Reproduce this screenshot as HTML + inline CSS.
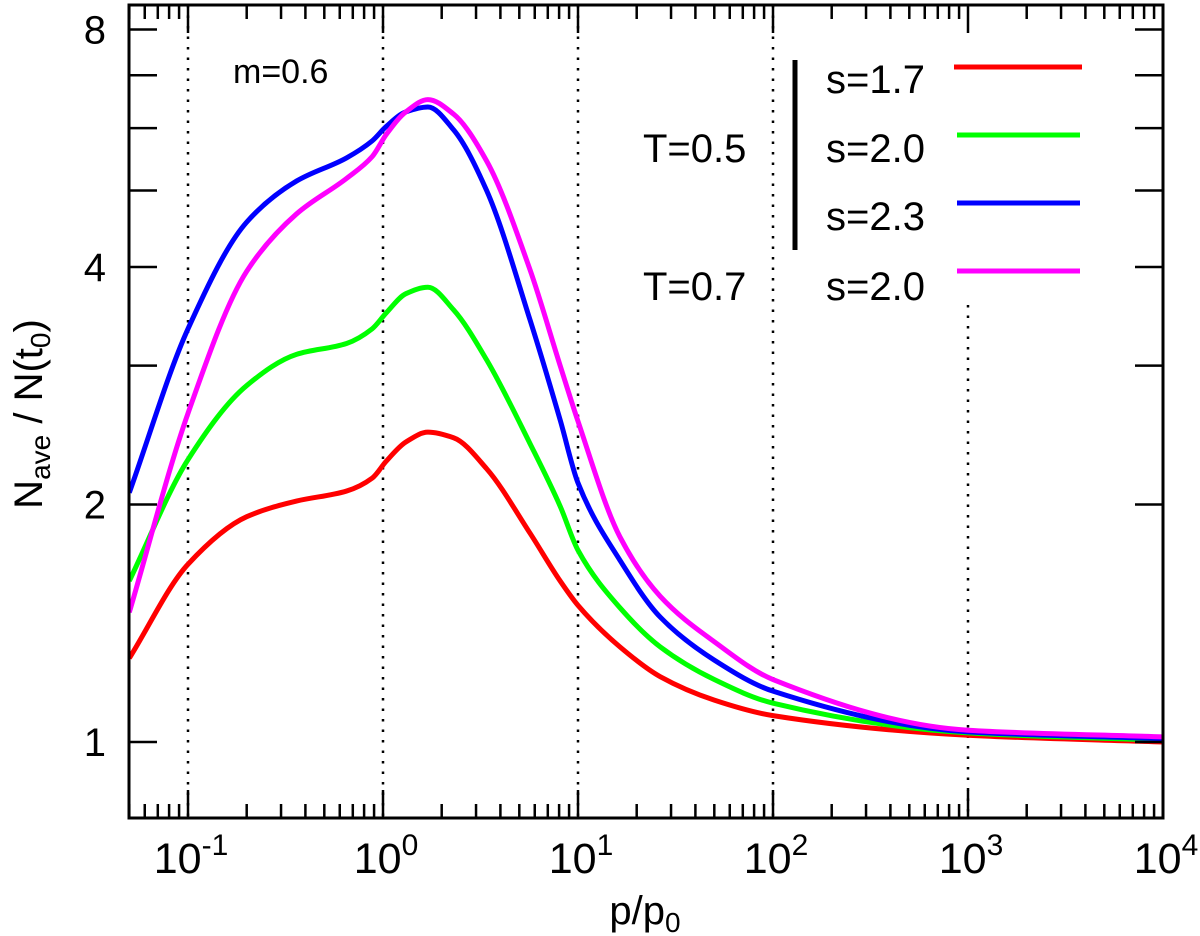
<!DOCTYPE html>
<html><head><meta charset="utf-8"><style>
html,body{margin:0;padding:0;background:#fff;}
svg{display:block;font-family:"Liberation Sans",sans-serif;}
</style></head><body>
<svg id="chart" width="1200" height="936" viewBox="0 0 1200 936" xmlns="http://www.w3.org/2000/svg">
<g id="grid"></g>
<g id="series"></g>
<g id="axes"></g>
<text x="233" y="83" font-size="34">m=0.6</text>
<g font-size="40">
  <text x="643" y="162">T=0.5</text>
  <text x="643" y="300">T=0.7</text>
  <line x1="795" y1="60" x2="795" y2="250" stroke="#000" stroke-width="5"/>
  <text x="826" y="93">s=1.7</text>
  <text x="826" y="162">s=2.0</text>
  <text x="826" y="230">s=2.3</text>
  <text x="826" y="300">s=2.0</text>
  <line x1="954" y1="67" x2="1082" y2="67" stroke="#ff0000" stroke-width="5"/>
  <line x1="957" y1="135" x2="1080" y2="135" stroke="#00ff00" stroke-width="5"/>
  <line x1="957" y1="203" x2="1080" y2="203" stroke="#0000ff" stroke-width="5"/>
  <line x1="957" y1="271" x2="1080" y2="271" stroke="#ff00ff" stroke-width="5"/>
</g>
<text x="645" y="924" font-size="40" text-anchor="middle">p/p<tspan font-size="28" dy="8">0</tspan></text>
<text transform="translate(42,414) rotate(-90)" font-size="40" text-anchor="middle">N<tspan font-size="28" dy="8">ave</tspan><tspan dy="-8"> / N(t</tspan><tspan font-size="28" dy="8">0</tspan><tspan dy="-8">)</tspan></text>
</svg>
<script>
const pValues = [0.05,0.1,0.2,0.36,0.65,0.88,1.04,1.31,1.7,2.3,3.4,5.67,8.1,10,16.4,26.4,50,100,1000,10000];
const redValues = [1.277,1.68,1.93,2.02,2.08,2.16,2.27,2.40,2.47,2.43,2.22,1.84,1.60,1.49,1.32,1.21,1.13,1.08,1.02,1.0];
const greenValues = [1.60,2.28,2.83,3.10,3.20,3.34,3.50,3.70,3.77,3.53,3.05,2.39,1.99,1.75,1.48,1.32,1.20,1.12,1.027,1.005];
const blueValues = [2.07,3.34,4.56,5.14,5.50,5.78,6.03,6.29,6.38,5.97,5.0,3.43,2.56,2.13,1.70,1.44,1.27,1.16,1.03,1.01];
const magentaValues = [1.46,2.61,3.95,4.67,5.18,5.52,5.89,6.29,6.52,6.25,5.45,3.97,3.0,2.55,1.82,1.53,1.34,1.20,1.035,1.015];
const xTickLabels = ["-1","0","1","2","3","4"];
const yTickLabels = ["1","2","4","8"];

const L=129,R=1163,T=5,B=818;
const NS="http://www.w3.org/2000/svg";
function xs(p){return 383+195*Math.log10(p);}
function ys(v){return 742-237.5*Math.log2(v);}
function mk(tag,attrs,parent){const e=document.createElementNS(NS,tag);for(const k in attrs)e.setAttribute(k,attrs[k]);parent.appendChild(e);return e;}
const grid=document.getElementById('grid'),axes=document.getElementById('axes'),series=document.getElementById('series');

for(let d=-1;d<=3;d++){
  const x=xs(Math.pow(10,d));
  const y1=(d===3)?305:T;
  const g=mk('line',{x1:x,y1:y1,x2:x,y2:B,stroke:'#000','stroke-width':2.5,'stroke-dasharray':'2.5,8'},grid);
  
  
}
function path(vals){
  const X=pValues.map(xs),Y=vals.map(ys),n=X.length,dx=[],s=[],m=[];
  for(let i=0;i<n-1;i++){dx[i]=X[i+1]-X[i];s[i]=(Y[i+1]-Y[i])/dx[i];}
  m[0]=s[0];m[n-1]=s[n-2];
  for(let i=1;i<n-1;i++){
    if(s[i-1]*s[i]<=0)m[i]=0;
    else{const w1=2*dx[i]+dx[i-1],w2=dx[i]+2*dx[i-1];m[i]=(w1+w2)/(w1/s[i-1]+w2/s[i]);}
  }
  let d='M'+X[0]+','+Y[0];
  for(let i=0;i<n-1;i++){
    const h=dx[i]/3;
    d+=` C${X[i]+h},${Y[i]+m[i]*h} ${X[i+1]-h},${Y[i+1]-m[i+1]*h} ${X[i+1]},${Y[i+1]}`;
  }
  return d;
}
const defs=mk('defs',{},series);
const cp=mk('clipPath',{id:'clip'},defs);
mk('rect',{x:L,y:T,width:R-L,height:B-T},cp);
const cg=mk('g',{'clip-path':'url(#clip)'},series);
[['red',redValues,'#ff0000'],['green',greenValues,'#00ff00'],['blue',blueValues,'#0000ff'],['magenta',magentaValues,'#ff00ff']].forEach(s=>{
  const e=mk('path',{d:path(s[1]),fill:'none',stroke:s[2],'stroke-width':5,'stroke-linejoin':'round'},cg);
  
  
});
const fr=mk('rect',{x:L,y:T,width:R-L,height:B-T,fill:'none',stroke:'#000','stroke-width':3},axes);


for(let d=-2;d<=3;d++){
  for(let m=1;m<10;m++){
    const p=m*Math.pow(10,d);
    if(p<0.05||p>10000)continue;
    const x=xs(p),len=(m===1)?28:14;
    const t1=mk('line',{x1:x,y1:B,x2:x,y2:B-len,stroke:'#000','stroke-width':2.5},axes);
    
    
    const t2=mk('line',{x1:x,y1:T,x2:x,y2:T+len,stroke:'#000','stroke-width':2.5},axes);
    
    
  }
}
xTickLabels.forEach(lab=>{
  const x=xs(Math.pow(10,+lab));
  const t=mk('text',{x:x+3,y:873,'font-size':43,'text-anchor':'middle'},axes);
  
  
  t.innerHTML='10<tspan font-size="30" dy="-18">'+lab+'</tspan>';
});
for(let v=1;v<=8;v++){
  const y=ys(v);
  const a=mk('line',{x1:L,y1:y,x2:L+28,y2:y,stroke:'#000','stroke-width':2.5},axes);
  
  
  const b=mk('line',{x1:R,y1:y,x2:R-28,y2:y,stroke:'#000','stroke-width':2.5},axes);
  
  
}
yTickLabels.forEach(lab=>{
  const t=mk('text',{x:106,y:ys(+lab)+14,'font-size':40,'text-anchor':'end'},axes);
  
  
  t.textContent=lab;
});
</script>
</body></html>
